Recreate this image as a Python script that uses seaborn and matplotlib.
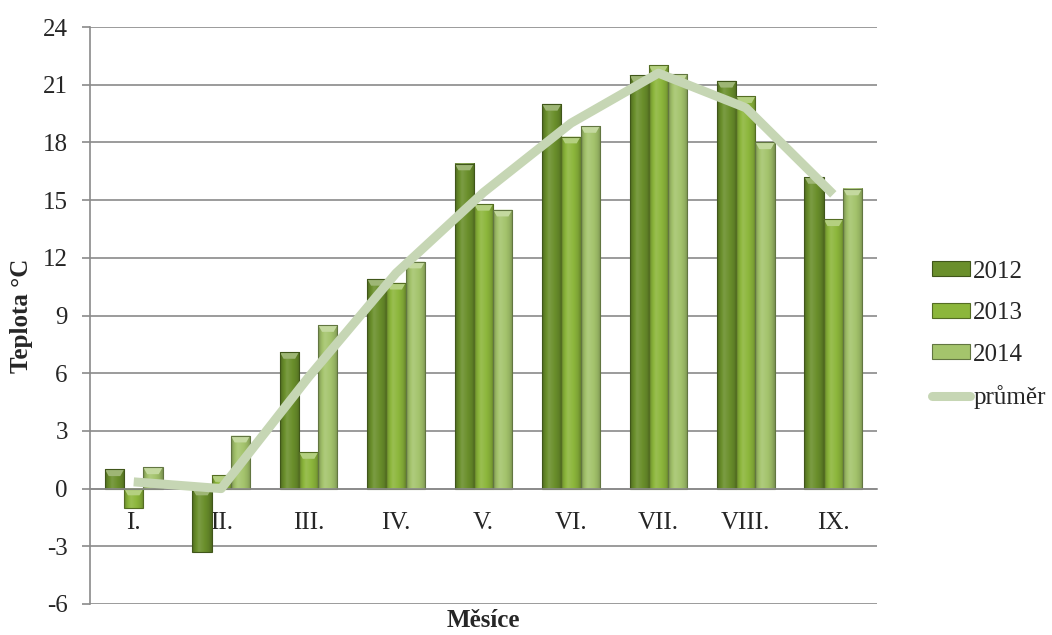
import numpy as np
import pandas as pd
import matplotlib
matplotlib.use("Agg")
import matplotlib.pyplot as plt
from matplotlib.colors import to_rgb
from matplotlib.patches import Patch, Polygon
from matplotlib.lines import Line2D
import seaborn as sns

# Monthly mean temperatures (°C)
months = ["I.", "II.", "III.", "IV.", "V.", "VI.", "VII.", "VIII.", "IX."]
years = ["2012", "2013", "2014"]
t2012 = [1.0, -3.3, 7.1, 10.9, 16.9, 20.0, 21.5, 21.2, 16.2]
t2013 = [-1.0, 0.7, 1.9, 10.7, 14.8, 18.3, 22.0, 20.4, 14.0]
t2014 = [1.1, 2.75, 8.5, 11.8, 14.5, 18.85, 21.55, 18.0, 15.6]
prumer = [0.35, 0.0, 5.8, 11.2, 15.4, 19.0, 21.6, 19.8, 15.3]
yticks = [-6, -3, 0, 3, 6, 9, 12, 15, 18, 21, 24]

colors = {"2012": "#6a8f2b", "2013": "#8cb63b", "2014": "#a4c46c"}
line_color = "#c6d6b4"

df = pd.DataFrame({
    "Měsíce": months * 3,
    "rok": sum([[y] * len(months) for y in years], []),
    "Teplota": t2012 + t2013 + t2014,
})

sns.set_theme(style="white")
plt.rcParams["font.family"] = ["Liberation Serif", "DejaVu Serif"]

fig = plt.figure(figsize=(10.52, 6.35), dpi=100)
ax = fig.add_axes([90 / 1052, 1 - 604 / 635, (877 - 90) / 1052, (604 - 27) / 635])

sns.barplot(data=df, x="Měsíce", y="Teplota", hue="rok", order=months,
            hue_order=years, palette=colors, width=0.66, gap=0,
            errorbar=None, legend=False, ax=ax, zorder=2)


def shade(rgb, f):
    rgb = np.array(rgb)
    if f >= 1:
        return rgb + (1 - rgb) * (f - 1)
    return rgb * f


# Rounded, cylinder-like shading across each bar plus a light bevelled cap
stops = np.array([0.0, 0.12, 0.35, 0.6, 0.85, 1.0])
factors = np.array([0.72, 0.9, 1.12, 1.02, 0.9, 0.74])
xs = np.linspace(0, 1, 64)
for bar, year in zip(ax.patches, np.repeat(years, len(months))):
    base = to_rgb(colors[year])
    x0, w = bar.get_x(), bar.get_width()
    y0, h = bar.get_y(), bar.get_height()
    lo, hi = min(y0, y0 + h), max(y0, y0 + h)
    f = np.interp(xs, stops, factors)
    img = np.array([[shade(base, v) for v in f]])
    ax.imshow(img, extent=[x0, x0 + w, lo, hi], aspect="auto",
              interpolation="bicubic", zorder=2.1)
    cap = 0.35
    ax.add_patch(Polygon([[x0, hi], [x0 + w, hi], [x0 + w * 0.8, hi - cap],
                          [x0 + w * 0.2, hi - cap]], closed=True,
                         facecolor=shade(base, 1.35), edgecolor="none",
                         zorder=2.2))
    bar.set_facecolor("none")
    bar.set_edgecolor(shade(base, 0.6))
    bar.set_linewidth(0.8)
    bar.set_zorder(2.3)

sns.lineplot(x=np.arange(len(months)), y=prumer, color=line_color,
             linewidth=6.5, ax=ax, zorder=4, solid_capstyle="butt")

ax.set_xlim(-0.5, len(months) - 0.5)
ax.set_ylim(-6, 24)
ax.set_yticks(yticks)
ax.set_yticklabels([str(v) for v in yticks], fontsize=18)
ax.yaxis.grid(True, color="#8a8a8a", linewidth=1.2, zorder=0)
ax.set_axisbelow(True)

for side in ["top", "right"]:
    ax.spines[side].set_visible(False)
ax.spines["left"].set_color("#8a8a8a")
ax.spines["left"].set_linewidth(1.2)
ax.spines["bottom"].set_position(("data", 0))
ax.spines["bottom"].set_color("#8a8a8a")
ax.spines["bottom"].set_linewidth(1.2)

ax.tick_params(axis="y", length=6, width=1.2, color="#8a8a8a", pad=10,
               labelsize=18, left=True)
ax.tick_params(axis="x", length=0, pad=17, labelsize=18)

ax.set_xlabel("Měsíce", fontsize=18, fontweight="bold")
ax.xaxis.set_label_coords(0.5, -0.008)
ax.set_ylabel("Teplota °C", fontsize=18, fontweight="bold")
ax.yaxis.set_label_coords(-0.072, 0.5)

handles = [Patch(facecolor=colors[y], edgecolor=shade(to_rgb(colors[y]), 0.6),
                 linewidth=0.8) for y in years]
handles.append(Line2D([0], [0], color=line_color, linewidth=6.5))
fig.legend(handles, years + ["průměr"], loc="center left",
           bbox_to_anchor=(922 / 1052, 1 - 335 / 635), frameon=False,
           fontsize=18, handlelength=1.5, handleheight=0.55,
           handletextpad=0.15, labelspacing=0.78, borderaxespad=0)

fig.savefig("out.png", dpi=100)
